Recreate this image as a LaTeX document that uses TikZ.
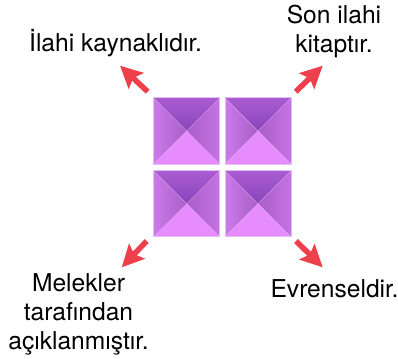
\documentclass[tikz,border=0pt]{standalone}
\usepackage{fontspec}
\setmainfont{TeX Gyre Heros}
\usetikzlibrary{arrows.meta}
\definecolor{edgeC}{HTML}{E6BCF5}
\definecolor{bottomC}{HTML}{E68CFF}
\definecolor{arrowC}{HTML}{EE3F4C}
\definecolor{topA}{HTML}{AA5CD2}
\definecolor{topB}{HTML}{8A44BA}
\definecolor{sideA}{HTML}{CC7AEA}
\definecolor{sideB}{HTML}{A85EC8}
\definecolor{sideC}{HTML}{C672E4}
\tikzset{
  x=1pt,y=-1pt,
  lab/.style={align=center,font=\fontsize{24.6}{29}\selectfont,text=black,inner sep=0pt,anchor=base},
  redarrow/.style={draw=arrowC,line width=5.5pt,-{Stealth[length=22pt,width=21.5pt,inset=4pt,fill=arrowC]}},
  pics/pyr/.style={code={
    \shade[top color=topA,bottom color=topB] (-33,-33) -- (33,-33) -- (0,0) -- cycle;
    \shade[left color=sideA,right color=sideB] (-33,-33) -- (0,0) -- (-33,33) -- cycle;
    \shade[right color=sideC,left color=sideB] (33,-33) -- (0,0) -- (33,33) -- cycle;
    \fill[bottomC] (-33,33) -- (0,0) -- (33,33) -- cycle;
    \draw[edgeC,line width=0.5pt,opacity=.45] (-33,-33) -- (33,33) (33,-33) -- (-33,33);
    \draw[edgeC,line width=1pt] (-33,-33) rectangle (33,33);
  }}
}
\begin{document}
\begin{tikzpicture}
\useasboundingbox (0,0) rectangle (398,358);
\pic at (186.7,131) {pyr};
\pic at (258,131) {pyr};
\pic at (186.7,203.8) {pyr};
\pic at (258,203.8) {pyr};
\coordinate (tlS) at (147.7,91.7); \coordinate (tlE) at (120,65.7);
\coordinate (trS) at (295.7,91.7); \coordinate (trE) at (322.7,65.7);
\coordinate (blS) at (146.7,241);  \coordinate (blE) at (121.7,267.3);
\coordinate (brS) at (296,241);    \coordinate (brE) at (322.7,267.3);
\draw[redarrow] (tlS) -- (tlE);
\draw[redarrow] (trS) -- (trE);
\draw[redarrow] (blS) -- (blE);
\draw[redarrow] (brS) -- (brE);
\node[lab] (a) at (115.5,52) {İlahi kaynaklıdır.};
\node[lab] (b) at (334,53) {Son ilahi\\kitaptır.};
\node[lab] (c) at (78.5,349) {Melekler\\tarafından\\açıklanmıştır.};
\node[lab] (d) at (334.5,297.3) {Evrenseldir.};
\end{tikzpicture}
\end{document}
